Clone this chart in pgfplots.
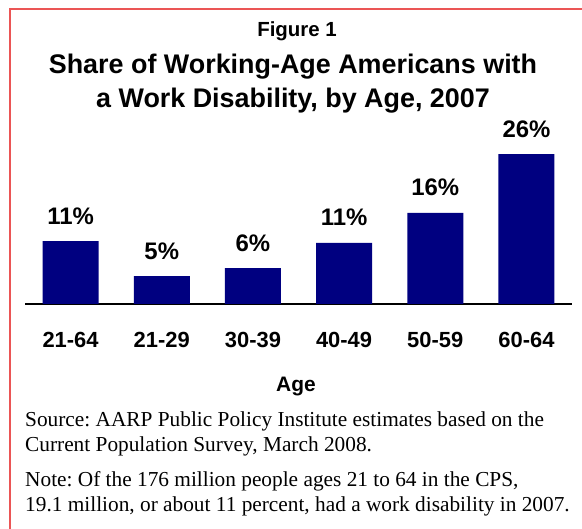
\documentclass[border=0pt]{standalone}
\usepackage{fontspec}
\setmainfont{Liberation Sans}
\newfontfamily\seriffont{Liberation Serif}
\usepackage{pgfplots}
\pgfplotsset{compat=1.18}
\definecolor{barblue}{RGB}{0,0,128}
\definecolor{framered}{RGB}{235,85,85}
\frenchspacing
\begin{document}
\begin{tikzpicture}[x=1bp,y=1bp]
\useasboundingbox (0,0) rectangle (582,529);
\fill[white] (0,0) rectangle (582,529);
\draw[framered, line width=1.5bp] (10,0) -- (10,520) -- (582,520);
\node[font=\bfseries\fontsize{20.5}{24}\selectfont, anchor=base, inner sep=0] at (297,492) {Figure 1};
\node[font=\bfseries\fontsize{27}{31}\selectfont, anchor=base, inner sep=0] at (293,455) {Share of Working-Age Americans with};
\node[font=\bfseries\fontsize{27}{31}\selectfont, anchor=base, inner sep=0] at (293,421) {a Work Disability, by Age, 2007};
\begin{axis}[
  at={(25bp,225bp)}, anchor=south west,
  width=547bp, height=173bp, scale only axis,
  xmin=-0.5, xmax=5.5, ymin=0, ymax=30,
  axis x line=bottom, axis y line=none,
  x axis line style={-, line width=2bp, black},
  xtick=data, xticklabels={21-64,21-29,30-39,40-49,50-59,60-64},
  major tick length=0pt, ytick=\empty,
  xticklabel style={font=\bfseries\fontsize{22}{25}\selectfont, anchor=base, inner sep=0pt, yshift=-44bp},
  ybar, bar width=56bp,
  nodes near coords, point meta=explicit symbolic,
  nodes near coords style={font=\bfseries\fontsize{24}{28}\selectfont, anchor=base, inner sep=0pt, yshift=17bp},
  clip=false,
]
\addplot[fill=barblue, draw=none] coordinates {
  (0,10.9) [11\%]
  (1,4.85) [5\%]
  (2,6.2) [6\%]
  (3,10.6) [11\%]
  (4,15.8) [16\%]
  (5,26.0) [26\%]
};
\end{axis}
\node[font=\bfseries\fontsize{21}{25}\selectfont, anchor=base, inner sep=0] at (296,137) {Age};
\begin{scope}[every node/.style={font=\seriffont\fontsize{21.4}{25}\selectfont, anchor=base west, inner sep=0}]
\node at (25,102) {Source: AARP Public Policy Institute estimates based on the};
\node at (25,77) {Current Population Survey, March 2008.};
\node at (25,42) {Note: Of the 176 million people ages 21 to 64 in the CPS,};
\node at (25,17) {19.1 million, or about 11 percent, had a work disability in 2007.};
\end{scope}
\end{tikzpicture}
\end{document}
